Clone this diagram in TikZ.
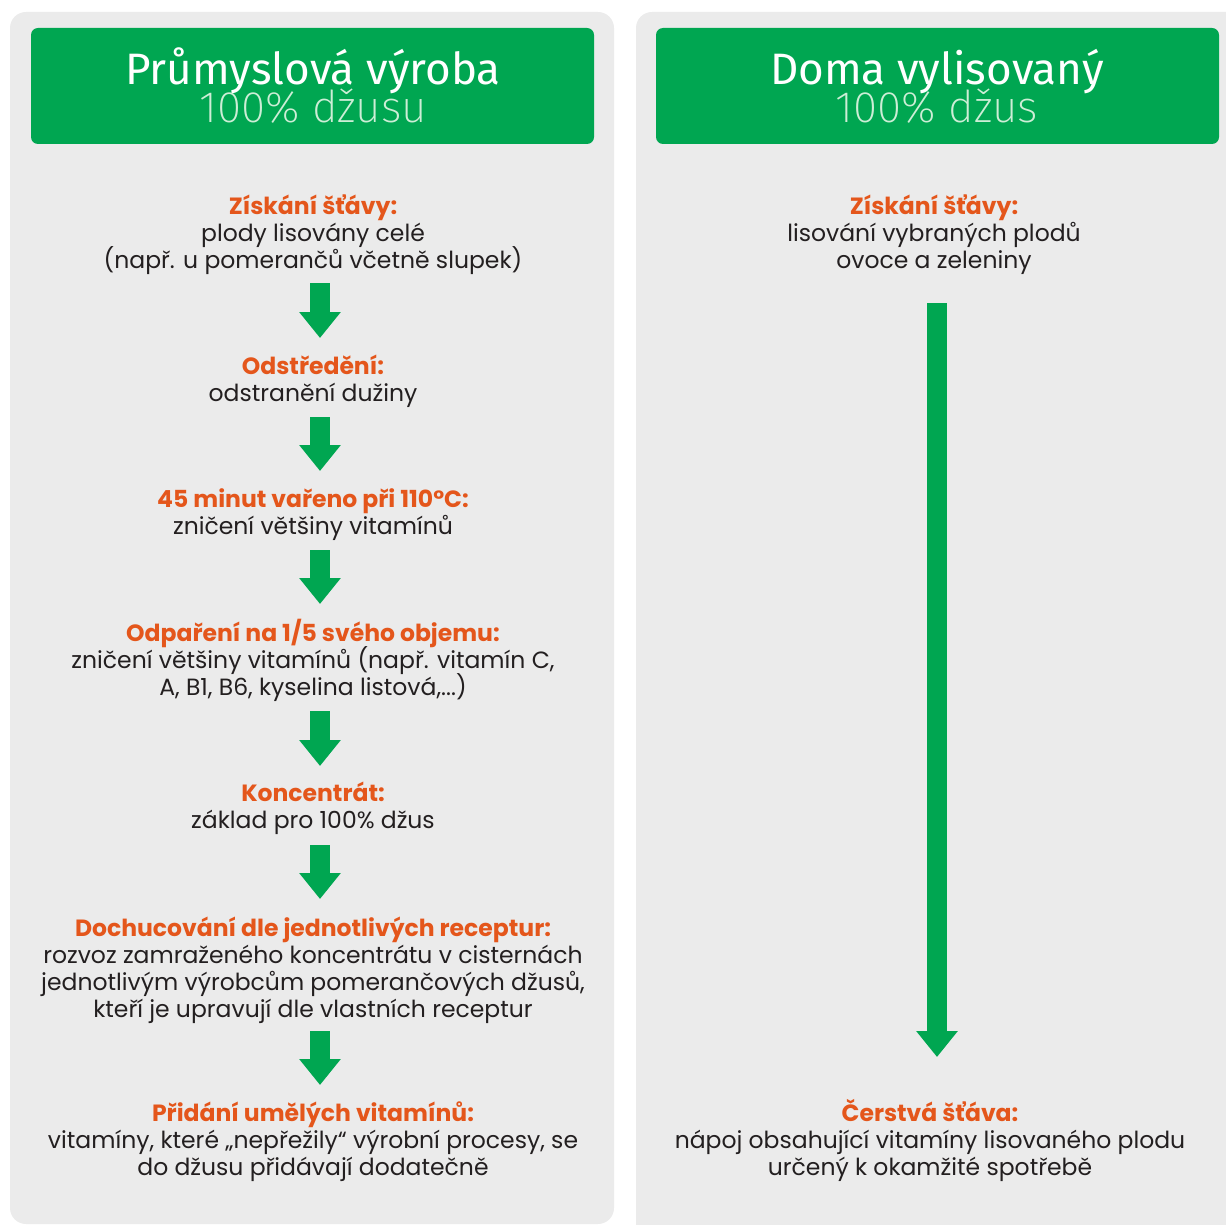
\documentclass[tikz,border=0pt]{standalone}
\usepackage{fontspec}
\setmainfont{Poppins}
\newfontfamily\titlefont{Fira Sans}
\newfontfamily\titlelight{Fira Sans}[UprightFont={* ExtraLight}]
\usetikzlibrary{arrows.meta}

\definecolor{panelgray}{HTML}{EBEBEB}
\definecolor{headgreen}{HTML}{00A651}
\definecolor{arrowgreen}{HTML}{00A651}
\definecolor{stepred}{HTML}{E4561B}
\definecolor{bodytext}{HTML}{231F20}
\definecolor{subtitle}{RGB}{205,238,214}

% keep a fixed baseline distance even where accents rise high
\newcommand\fixedlines{\lineskiplimit=-60pt\relax\lineskip=0pt\relax}

\tikzset{
  panel/.style={fill=panelgray, rounded corners=16pt},
  headbox/.style={fill=headgreen, rounded corners=7pt},
  % the base anchor of a multi-line node sits on its last line
  title/.style={anchor=base, inner sep=0pt, align=center, text=white,
    font=\titlefont\fontsize{44}{38}\selectfont\fixedlines},
  stepbox/.style={anchor=base, inner sep=0pt, align=center, text=bodytext,
    font=\fontsize{23.5}{27}\selectfont\fixedlines},
  flow/.style={draw=arrowgreen, line width=20pt,
    -{Triangle[width=40pt,length=26pt]}},
}
\newcommand\stephead[1]{{\bfseries\color{stepred}#1}}
\newcommand\subline[1]{{\titlelight\color{subtitle}#1}}

\begin{document}
\begin{tikzpicture}[x=1pt,y=-1pt]
  \useasboundingbox (0,0) rectangle (1226,1225);
  \clip (0,0) rectangle (1226,1225);

  % two columns
  \fill[panel] (10,12) rectangle (614,1224);
  \fill[panel] (636,12) rectangle (1260,1260);

  % column headers
  \fill[headbox] (31,28) rectangle (594,144);
  \fill[headbox] (656,28) rectangle (1219,144);
  \node[title] (t1) at (313,123) {Průmyslová výroba\\\subline{100\% džusu}};
  \node[title] (t2) at (937,123) {Doma vylisovaný\\\subline{100\% džus}};

  % industrial process
  \node[stepbox] (p1) at (313,268) {\stephead{Získání šťávy:}\\plody lisovány celé\\(např. u pomerančů včetně slupek)};
  \node[stepbox] (p2) at (313,401) {\stephead{Odstředění:}\\odstranění dužiny};
  \node[stepbox] (p3) at (313,534) {\stephead{45 minut vařeno při 110°C:}\\zničení většiny vitamínů};
  \node[stepbox] (p4) at (313,695) {\stephead{Odpaření na 1/5 svého objemu:}\\zničení většiny vitamínů (např. vitamín C,\\A, B1, B6, kyselina listová,...)};
  \node[stepbox] (p5) at (313,828) {\stephead{Koncentrát:}\\základ pro 100\% džus};
  \node[stepbox] (p6) at (313,1017) {\stephead{Dochucování dle jednotlivých receptur:}\\rozvoz zamraženého koncentrátu v cisternách\\jednotlivým výrobcům pomerančových džusů,\\kteří je upravují dle vlastních receptur};
  \node[stepbox] (p7) at (313,1175) {\stephead{Přidání umělých vitamínů:}\\vitamíny, které „nepřežily“ výrobní procesy, se\\do džusu přidávají dodatečně};

  \coordinate (a1s) at (320,283);  \coordinate (a1e) at (320,338);
  \coordinate (a2s) at (320,417);  \coordinate (a2e) at (320,471);
  \coordinate (a3s) at (320,550);  \coordinate (a3e) at (320,604);
  \coordinate (a4s) at (320,711);  \coordinate (a4e) at (320,766);
  \coordinate (a5s) at (320,845);  \coordinate (a5e) at (320,899);
  \coordinate (a6s) at (320,1031); \coordinate (a6e) at (320,1085);
  \draw[flow] (a1s) -- (a1e);
  \draw[flow] (a2s) -- (a2e);
  \draw[flow] (a3s) -- (a3e);
  \draw[flow] (a4s) -- (a4e);
  \draw[flow] (a5s) -- (a5e);
  \draw[flow] (a6s) -- (a6e);

  % home pressing
  \node[stepbox] (h1) at (934,268) {\stephead{Získání šťávy:}\\lisování vybraných plodů\\ovoce a zeleniny};
  \node[stepbox] (h2) at (930,1175) {\stephead{Čerstvá šťáva:}\\nápoj obsahující vitamíny lisovaného plodu\\určený k okamžité spotřebě};
  \coordinate (b1s) at (937,303); \coordinate (b1e) at (937,1057);
  \draw[flow] (b1s) -- (b1e);
\end{tikzpicture}
\end{document}
